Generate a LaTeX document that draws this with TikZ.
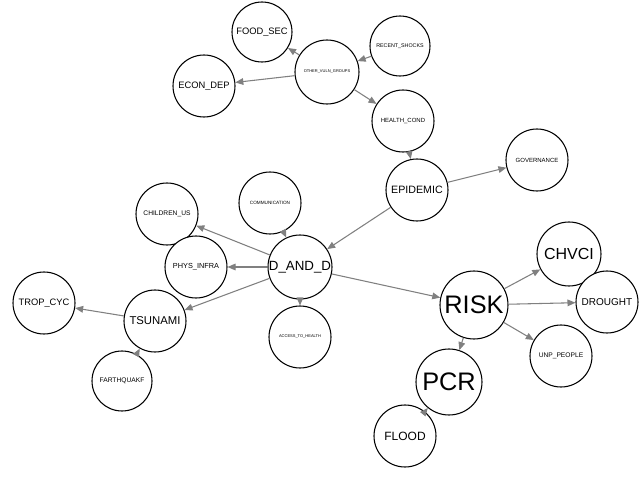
\documentclass[tikz,border=0pt]{standalone}
\usepackage{fontspec}
\setmainfont{Liberation Sans}
\usetikzlibrary{arrows.meta}
\begin{document}
\begin{tikzpicture}[x=0.75pt,y=-0.75pt,
  nd/.style={circle,draw,line width=0.8pt,fill=white,minimum size=#1*0.75pt,inner sep=0pt},
  ed/.style={draw=gray,line width=0.8pt,-{Triangle[length=6pt,width=5pt]}}]
\useasboundingbox (0,0) rectangle (640,492);
\node[nd=60] (food) at (262,32) {\fontsize{7}{8}\selectfont FOOD\_SEC};
\node[nd=64] (other) at (327,72) {\fontsize{3}{4}\selectfont OTHER\_VULN\_GROUPS};
\node[nd=60] (recent) at (400,46) {\fontsize{4}{5}\selectfont RECENT\_SHOCKS};
\node[nd=62] (econ) at (204,86) {\fontsize{7}{8}\selectfont ECON\_DEP};
\node[nd=62] (health) at (403,121) {\fontsize{4.5}{5}\selectfont HEALTH\_COND};
\node[nd=62] (epi) at (417,190) {\fontsize{8}{9}\selectfont EPIDEMIC};
\node[nd=62] (gov) at (537,160) {\fontsize{4.5}{5}\selectfont GOVERNANCE};
\node[nd=62] (comm) at (270,203) {\fontsize{3.5}{4}\selectfont COMMUNICATION};
\node[nd=62] (child) at (167,214) {\fontsize{5}{6}\selectfont CHILDREN\_US};
\node[nd=62] (phys) at (196,267) {\fontsize{5.5}{6}\selectfont PHYS\_INFRA};
\node[nd=64] (dd) at (300,267) {\fontsize{10}{11}\selectfont D\_AND\_D};
\node[nd=62] (tsu) at (155,321) {\fontsize{8.5}{9}\selectfont TSUNAMI};
\node[nd=62] (trop) at (44,303) {\fontsize{7}{8}\selectfont TROP\_CYC};
\node[nd=60] (earth) at (122,381) {\fontsize{5}{6}\selectfont FARTHQUAKF};
\node[nd=62] (acc) at (300,337) {\fontsize{3}{4}\selectfont ACCESS\_TO\_HEALTH};
\node[nd=68] (risk) at (474,305) {\fontsize{19}{20}\selectfont RISK};
\node[nd=64] (chv) at (569,254) {\fontsize{12}{13}\selectfont CHVCI};
\node[nd=62] (dro) at (607,302) {\fontsize{7.5}{8}\selectfont DROUGHT};
\node[nd=62] (unp) at (561,356) {\fontsize{5}{6}\selectfont UNP\_PEOPLE};
\node[nd=66] (pcr) at (449,382) {\fontsize{19}{20}\selectfont PCR};
\node[nd=62] (flood) at (405,436) {\fontsize{9}{10}\selectfont FLOOD};
\foreach \a/\b in {recent/other,other/food,other/econ,other/health,health/epi,epi/gov,epi/dd,comm/dd,dd/child,dd/phys,dd/tsu,dd/acc,dd/risk,tsu/trop,earth/tsu,risk/chv,risk/dro,risk/unp,risk/pcr,flood/pcr}
  \draw[ed] (\a) -- (\b);
\end{tikzpicture}
\end{document}
